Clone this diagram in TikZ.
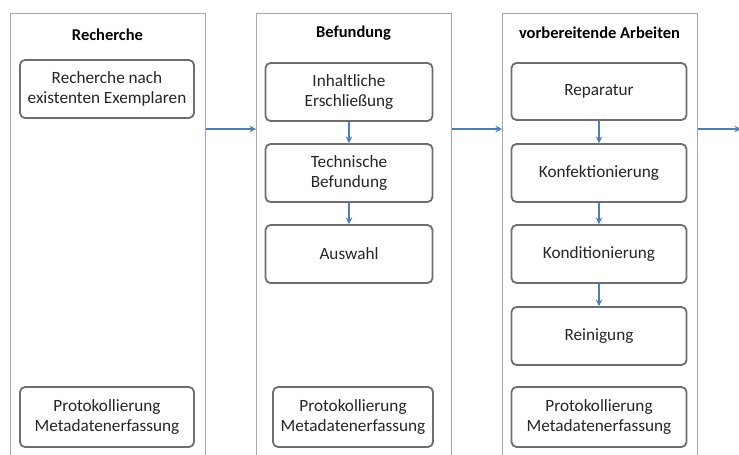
\documentclass[tikz,border=0pt]{standalone}
\usepackage{fontspec}
\setmainfont{Carlito}
\usetikzlibrary{arrows.meta}
\definecolor{framegray}{HTML}{A8A8A8}
\definecolor{boxgray}{HTML}{6E6E6E}
\definecolor{arrowblue}{HTML}{4A7EBF}
\tikzset{
  colframe/.style={draw=framegray, line width=0.9pt, fill=white, rectangle, inner sep=0pt},
  procbox/.style={draw=boxgray, line width=1.8pt, rounded corners=5pt, fill=white, align=center,
    inner sep=2pt, font=\fontsize{17.2}{19.5}\selectfont, text=black!85},
  coltitle/.style={font=\fontsize{16.5}{19}\selectfont\bfseries, text=black},
  flow/.style={draw=arrowblue, line width=1.5pt, -{Stealth[length=6.5pt,width=6.5pt]}},
}
\begin{document}
\begin{tikzpicture}[x=1pt,y=-1pt]
\useasboundingbox (0,0) rectangle (739,455);
\clip (0,0) rectangle (739,455);
% columns
\node[colframe, anchor=north west, minimum width=195, minimum height=460] (c1) at (10,13) {};
\node[colframe, anchor=north west, minimum width=195, minimum height=460] (c2) at (256,13) {};
\node[colframe, anchor=north west, minimum width=195, minimum height=460] (c3) at (502,13) {};
% titles
\node[coltitle] (t1) at (107.5,35) {Recherche};
\node[coltitle] (t2) at (353.5,33) {Befundung};
\node[coltitle] (t3) at (599.5,33) {vorbereitende Arbeiten};
% column 1
\node[procbox, minimum width=174, minimum height=58] (r1) at (107,89) {Recherche nach\\existenten Exemplaren};
\node[procbox, minimum width=174, minimum height=60] (p1) at (107,417) {Protokollierung\\Metadatenerfassung};
% column 2
\node[procbox, minimum width=167, minimum height=58] (b1) at (349,92) {Inhaltliche\\Erschließung};
\node[procbox, minimum width=167, minimum height=58] (b2) at (349,173) {Technische\\Befundung};
\node[procbox, minimum width=167, minimum height=58] (b3) at (349,254) {Auswahl};
\node[procbox, minimum width=160, minimum height=60] (p2) at (353,417) {Protokollierung\\Metadatenerfassung};
% column 3
\node[procbox, minimum width=175, minimum height=57] (v1) at (599,91.5) {Reparatur};
\node[procbox, minimum width=175, minimum height=58] (v2) at (599,173) {Konfektionierung};
\node[procbox, minimum width=175, minimum height=58] (v3) at (599,254) {Konditionierung};
\node[procbox, minimum width=175, minimum height=58] (v4) at (599,336) {Reinigung};
\node[procbox, minimum width=175, minimum height=60] (p3) at (599,417) {Protokollierung\\Metadatenerfassung};
% connectors
\coordinate (out) at (741,129);
\draw[flow] (c1.east |- 0,129) -- (c2.west |- 0,129);
\draw[flow] (c2.east |- 0,129) -- (c3.west |- 0,129);
\draw[flow] (c3.east |- 0,129) -- (out);
\draw[flow] (b1) -- (b2);
\draw[flow] (b2) -- (b3);
\draw[flow] (v1) -- (v2);
\draw[flow] (v2) -- (v3);
\draw[flow] (v3) -- (v4);
\end{tikzpicture}
\end{document}
